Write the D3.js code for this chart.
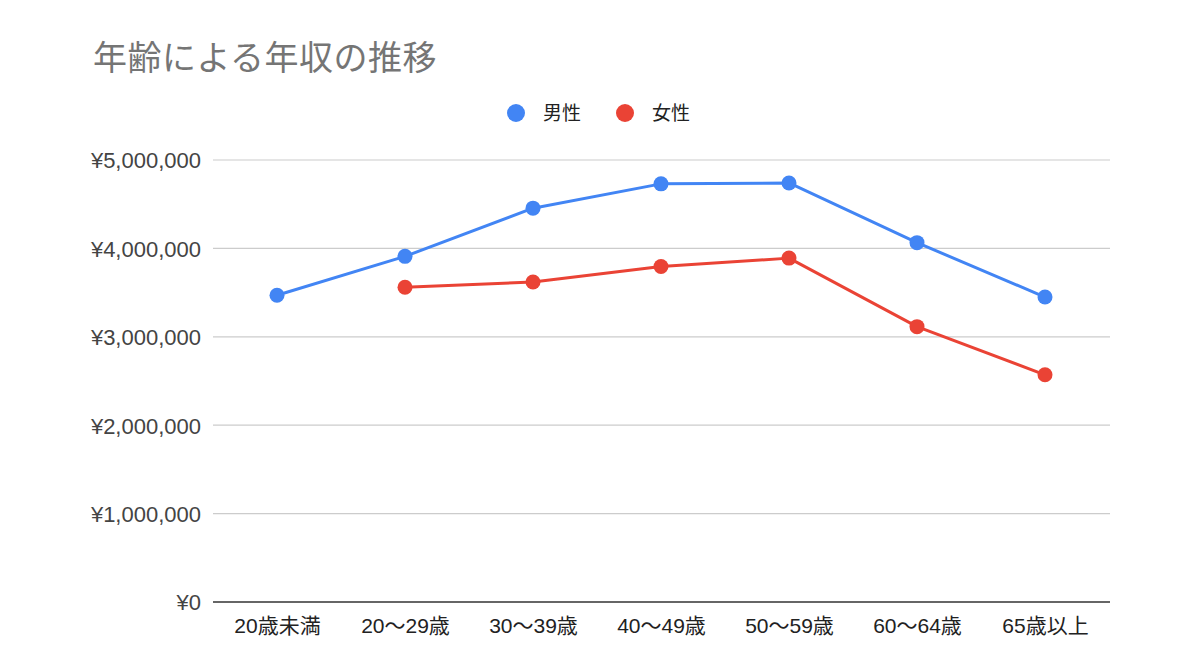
<!DOCTYPE html>
<html><head><meta charset="utf-8">
<script src="https://cdn.jsdelivr.net/npm/d3@7"></script>
<style>
html,body{margin:0;padding:0;background:#fff;}
svg{display:block;}
</style></head>
<body>
<svg id="chart" width="1200" height="672"></svg>
<script>
const categories = ["20歳未満","20〜29歳","30〜39歳","40〜49歳","50〜59歳","60〜64歳","65歳以上"];
const male   = [3470000, 3910000, 4455000, 4730000, 4740000, 4065000, 3450000];
const female = [null,    3560000, 3620000, 3795000, 3890000, 3115000, 2570000];
const yTicks = [0, 1000000, 2000000, 3000000, 4000000, 5000000];
const seriesNames = ["男性","女性"];
const colors = ["#4285F4","#EA4335"];

(function(){
const svg = d3.select("#chart");
const pL = 213, pR = 1109, pT = 160, pB = 602;

const x = d3.scalePoint().domain(categories).range([pL, pR]).padding(0.5);
const y = d3.scaleLinear().domain([0, 5000000]).range([pB, pT]);

// title
svg.append("text").attr("x", 93).attr("y", 70)
  .attr("font-family", "'Noto Sans CJK JP', sans-serif")
  .attr("font-size", 34).attr("letter-spacing", 0.5).attr("fill", "#757575").text("年齢による年収の推移");

// gridlines
svg.append("g").selectAll("line").data(yTicks.filter(d => d > 0)).join("line")
  .attr("x1", pL).attr("x2", pR + 1)
  .attr("y1", d => y(d)).attr("y2", d => y(d))
  .attr("stroke", "#cccccc").attr("stroke-width", 1.2);

// y axis labels
const fmt = d => "¥" + d3.format(",")(d);
const yAxis = d3.axisLeft(y).tickValues(yTicks).tickFormat(fmt).tickSize(0).tickPadding(12);
const gy = svg.append("g").attr("transform", `translate(${pL},0)`).call(yAxis);
gy.select(".domain").remove();
gy.selectAll("text").attr("font-family", "'Liberation Sans', Arial, sans-serif")
  .attr("font-size", 22).attr("fill", "#444").attr("dy", "0.36em");

// baseline
svg.append("line").attr("x1", pL).attr("x2", pR + 1)
  .attr("y1", y(0)).attr("y2", y(0)).attr("stroke", "#333").attr("stroke-width", 1.5);

// x axis labels
const xAxis = d3.axisBottom(x).tickSize(0).tickPadding(16);
const gx = svg.append("g").attr("transform", `translate(0,${pB})`).call(xAxis);
gx.select(".domain").remove();
gx.selectAll("text").attr("font-family", "'Liberation Sans', 'Noto Sans CJK JP', sans-serif")
  .attr("font-size", 21).attr("fill", "#222");

// lines and points
const allSeries = [male, female];
allSeries.forEach((vals, i) => {
  const pts = categories.map((c, j) => ({c, v: vals[j]}));
  const line = d3.line().defined(d => d.v != null).x(d => x(d.c)).y(d => y(d.v));
  svg.append("path").datum(pts).attr("d", line)
    .attr("fill", "none").attr("stroke", colors[i]).attr("stroke-width", 3)
    .attr("stroke-linejoin", "round");
  svg.append("g").selectAll("circle").data(pts.filter(d => d.v != null)).join("circle")
    .attr("cx", d => x(d.c)).attr("cy", d => y(d.v)).attr("r", 7.5).attr("fill", colors[i]);
});

// legend
const legendX = [516, 625];
seriesNames.forEach((n, i) => {
  svg.append("circle").attr("cx", legendX[i]).attr("cy", 113).attr("r", 9).attr("fill", colors[i]);
  svg.append("text").attr("x", legendX[i] + 27).attr("y", 120)
    .attr("font-family", "'Noto Sans CJK JP', sans-serif")
    .attr("font-size", 19).attr("fill", "#222").text(n);
});
})();
</script>
</body></html>
